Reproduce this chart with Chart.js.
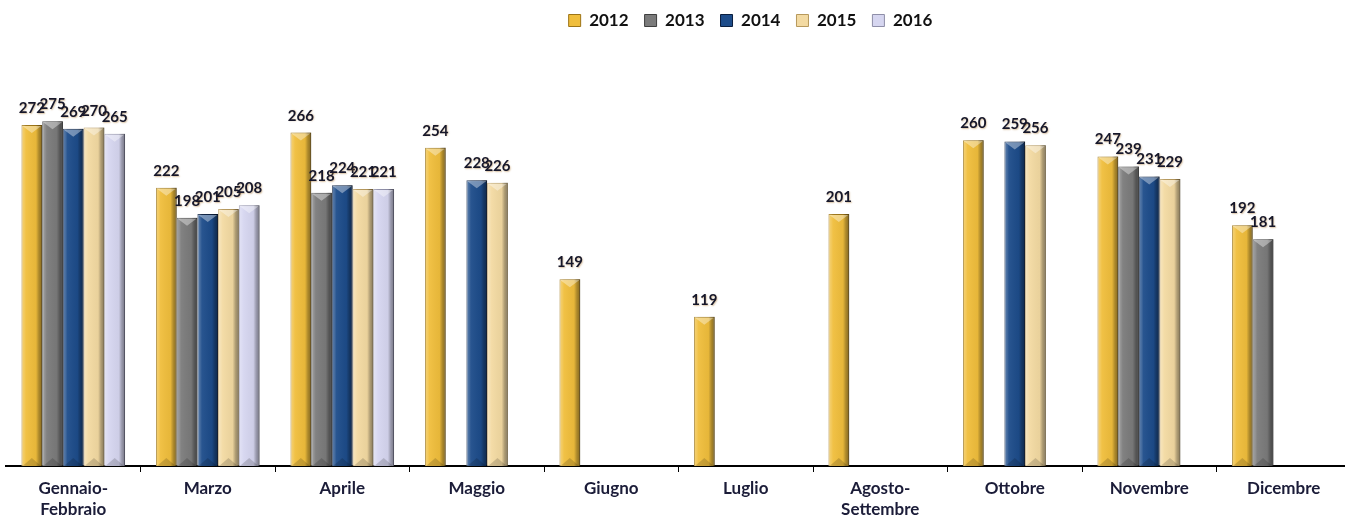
<!DOCTYPE html>
<html lang="it">
<head>
<meta charset="utf-8">
<title>Andamento mensile 2012-2016</title>
<script src="https://cdn.jsdelivr.net/npm/chart.js@4.4.1/dist/chart.umd.min.js"></script>
<style>
  html, body { margin: 0; padding: 0; background: #ffffff; overflow: hidden; }
  #wrap { width: 1345px; height: 518px; overflow: hidden; }
  canvas { display: block; }
</style>
</head>
<body>
<div id="wrap"><canvas id="c" width="1360" height="530"></canvas></div>
<script>
// Months (Agosto and Settembre are reported together)
const categories = [
  ['Gennaio-', 'Febbraio'], 'Marzo', 'Aprile', 'Maggio', 'Giugno',
  'Luglio', ['Agosto-', 'Settembre'], 'Ottobre', 'Novembre', 'Dicembre'
];
const seriesNames = ['2012', '2013', '2014', '2015', '2016'];

const values2012 = [272, 222, 266, 254, 149, 119, 201, 260, 247, 192];
const values2013 = [275, 198, 218, null, null, null, null, null, 239, 181];
const values2014 = [269, 201, 224, 228, null, null, null, 259, 231, null];
const values2015 = [270, 205, 221, 226, null, null, null, 256, 229, null];
const values2016 = [265, 208, 221, null, null, null, null, null, null, null];

const yMin = 0;
const yMax = 300;

const fills   = ['#F0BE3C', '#7B7B7B', '#1D4C8A', '#F3DAA2', '#D6D6F0'];
const borders = ['#9C7416', '#3E3E3E', '#0A1E3E', '#B7995C', '#8E8EA8'];

// Shades each bar as a bevelled column: side lighting plus top and bottom facets
const bevelPlugin = {
  id: 'bevel',
  afterDatasetsDraw(chart) {
    const ctx = chart.ctx;
    chart.data.datasets.forEach((ds, di) => {
      const meta = chart.getDatasetMeta(di);
      if (meta.hidden) return;
      meta.data.forEach((el, i) => {
        if (ds.data[i] == null) return;
        const p = el.getProps(['x', 'y', 'base', 'width'], true);
        const l = p.x - p.width / 2, r = p.x + p.width / 2;
        const t = p.y, b = p.base;
        const h = b - t;
        const bev = Math.min(8, h / 3);
        ctx.save();
        // side lighting
        const g = ctx.createLinearGradient(l, 0, r, 0);
        g.addColorStop(0, 'rgba(255,255,255,0.30)');
        g.addColorStop(0.13, 'rgba(255,255,255,0.18)');
        g.addColorStop(0.22, 'rgba(255,255,255,0.05)');
        g.addColorStop(0.70, 'rgba(0,0,0,0.04)');
        g.addColorStop(0.84, 'rgba(0,0,0,0.28)');
        g.addColorStop(1, 'rgba(0,0,0,0.45)');
        ctx.fillStyle = g;
        ctx.fillRect(l, t, p.width, h);
        // top facet
        ctx.beginPath();
        ctx.moveTo(l + 1, t + 1);
        ctx.lineTo(r - 1, t + 1);
        ctx.lineTo(p.x, t + bev);
        ctx.closePath();
        ctx.fillStyle = 'rgba(255,255,255,0.38)';
        ctx.fill();
        // bottom facet
        ctx.beginPath();
        ctx.moveTo(l + 1, b);
        ctx.lineTo(r - 1, b);
        ctx.lineTo(p.x, b - bev);
        ctx.closePath();
        ctx.fillStyle = 'rgba(0,0,0,0.16)';
        ctx.fill();
        ctx.restore();
      });
    });
  }
};

// Value printed above every bar
const valueLabelPlugin = {
  id: 'valueLabels',
  afterDatasetsDraw(chart) {
    const ctx = chart.ctx;
    ctx.save();
    ctx.font = 'bold 15px Lato, "Open Sans", sans-serif';
    ctx.textAlign = 'center';
    ctx.textBaseline = 'alphabetic';
    ctx.shadowColor = 'rgba(170,120,50,0.45)';
    ctx.shadowBlur = 1.5;
    ctx.shadowOffsetX = 0.8;
    ctx.shadowOffsetY = 0.8;
    ctx.fillStyle = '#16172A';
    chart.data.datasets.forEach((ds, di) => {
      const meta = chart.getDatasetMeta(di);
      if (meta.hidden) return;
      meta.data.forEach((el, i) => {
        const v = ds.data[i];
        if (v == null) return;
        const p = el.getProps(['x', 'y'], true);
        ctx.fillText(String(v), p.x, p.y - 12);
      });
    });
    ctx.restore();
  }
};

// The legend row sits a little to the right of the centre line and close to the top edge
const legendShiftPlugin = {
  id: 'legendShift',
  afterLayout(chart) {
    const lg = chart.legend;
    if (!lg) return;
    const dx = 72, dy = -51;
    lg.left += dx; lg.right += dx;
    lg.top += dy; lg.bottom += dy;
  }
};

const datasets = [values2012, values2013, values2014, values2015, values2016].map((vals, k) => ({
  label: seriesNames[k],
  data: vals,
  backgroundColor: fills[k],
  borderColor: borders[k],
  borderWidth: 1,
  borderSkipped: 'bottom'
}));

new Chart(document.getElementById('c'), {
  type: 'bar',
  data: { labels: categories, datasets },
  plugins: [bevelPlugin, valueLabelPlugin, legendShiftPlugin],
  options: {
    responsive: false,
    animation: false,
    events: [],
    layout: { padding: { left: 6, right: 9, top: 47, bottom: 4 } },
    datasets: {
      bar: { categoryPercentage: 0.77, barPercentage: 1.0 }
    },
    plugins: {
      tooltip: { enabled: false },
      legend: {
        position: 'top',
        align: 'center',
        labels: {
          boxWidth: 12,
          boxHeight: 12,
          padding: 16,
          color: '#111111',
          font: { family: 'Lato, "Open Sans", sans-serif', size: 17, weight: 'bold' }
        }
      }
    },
    scales: {
      x: {
        offset: true,
        border: { display: true, color: '#000000', width: 2 },
        grid: {
          offset: true,
          drawOnChartArea: false,
          drawTicks: true,
          tickLength: 6,
          tickWidth: 1,
          color: (c) => (c.index === 0 ? 'rgba(0,0,0,0)' : '#000000')
        },
        ticks: {
          color: '#1B1C38',
          padding: 6,
          maxRotation: 0,
          autoSkip: false,
          font: { family: 'Lato, "Open Sans", sans-serif', size: 17, weight: 'bold', lineHeight: 1.235 }
        }
      },
      y: {
        display: false,
        min: yMin,
        max: yMax
      }
    }
  }
});
</script>
</body>
</html>
